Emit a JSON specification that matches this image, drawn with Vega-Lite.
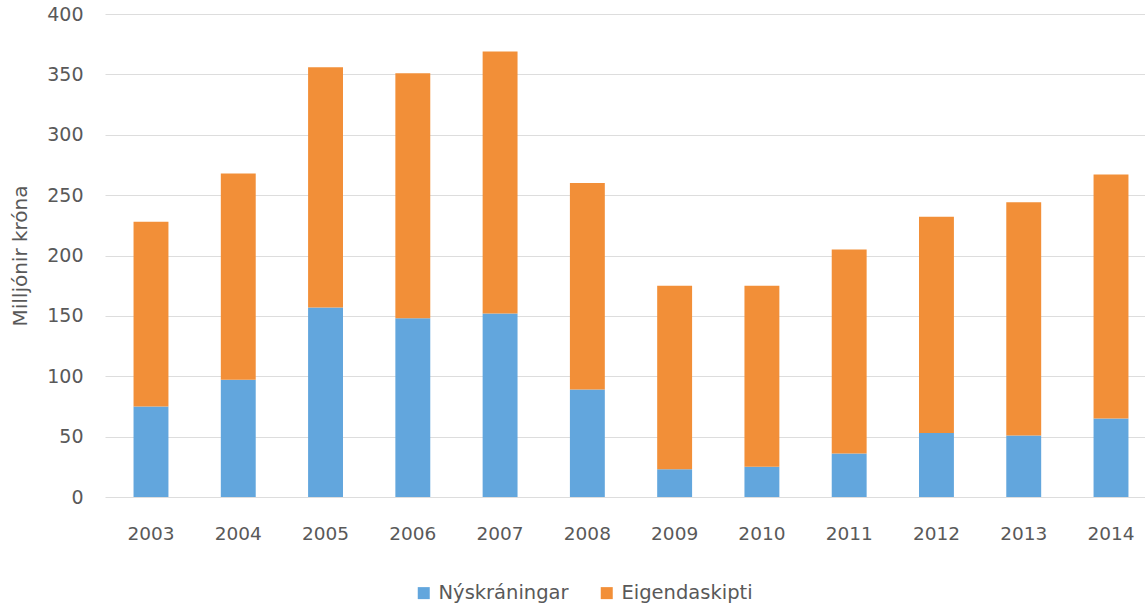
{
  "$schema": "https://vega.github.io/schema/vega-lite/v6.json",
  "width": 1040,
  "height": 483,
  "autosize": {"type": "none"},
  "padding": {"left": 105, "top": 14, "right": 0, "bottom": 112},
  "background": "white",
  "config": {
    "view": {"stroke": null},
    "font": "DejaVu Sans",
    "axis": {"labelFont": "DejaVu Sans", "titleFont": "DejaVu Sans", "labelColor": "#595959", "titleColor": "#595959"},
    "legend": {"labelFont": "DejaVu Sans"}
  },
  "data": {
    "values": [
      {"ar": "2003", "flokkur": "Nýskráningar", "o": 1, "v": 75},
      {"ar": "2003", "flokkur": "Eigendaskipti", "o": 2, "v": 153},
      {"ar": "2004", "flokkur": "Nýskráningar", "o": 1, "v": 97},
      {"ar": "2004", "flokkur": "Eigendaskipti", "o": 2, "v": 171},
      {"ar": "2005", "flokkur": "Nýskráningar", "o": 1, "v": 157},
      {"ar": "2005", "flokkur": "Eigendaskipti", "o": 2, "v": 199},
      {"ar": "2006", "flokkur": "Nýskráningar", "o": 1, "v": 148},
      {"ar": "2006", "flokkur": "Eigendaskipti", "o": 2, "v": 203},
      {"ar": "2007", "flokkur": "Nýskráningar", "o": 1, "v": 152},
      {"ar": "2007", "flokkur": "Eigendaskipti", "o": 2, "v": 217},
      {"ar": "2008", "flokkur": "Nýskráningar", "o": 1, "v": 89},
      {"ar": "2008", "flokkur": "Eigendaskipti", "o": 2, "v": 171},
      {"ar": "2009", "flokkur": "Nýskráningar", "o": 1, "v": 23},
      {"ar": "2009", "flokkur": "Eigendaskipti", "o": 2, "v": 152},
      {"ar": "2010", "flokkur": "Nýskráningar", "o": 1, "v": 25},
      {"ar": "2010", "flokkur": "Eigendaskipti", "o": 2, "v": 150},
      {"ar": "2011", "flokkur": "Nýskráningar", "o": 1, "v": 36},
      {"ar": "2011", "flokkur": "Eigendaskipti", "o": 2, "v": 169},
      {"ar": "2012", "flokkur": "Nýskráningar", "o": 1, "v": 53},
      {"ar": "2012", "flokkur": "Eigendaskipti", "o": 2, "v": 179},
      {"ar": "2013", "flokkur": "Nýskráningar", "o": 1, "v": 51},
      {"ar": "2013", "flokkur": "Eigendaskipti", "o": 2, "v": 193},
      {"ar": "2014", "flokkur": "Nýskráningar", "o": 1, "v": 65},
      {"ar": "2014", "flokkur": "Eigendaskipti", "o": 2, "v": 202}
    ]
  },
  "mark": {"type": "bar"},
  "encoding": {
    "x": {
      "field": "ar",
      "type": "ordinal",
      "title": null,
      "scale": {"paddingInner": 0.6, "paddingOuter": 0.327, "range": [0, 1052]},
      "axis": {
        "labelAngle": 0,
        "labelFontSize": 18.5,
        "labelPadding": 27,
        "ticks": false,
        "domain": false
      }
    },
    "y": {
      "field": "v",
      "type": "quantitative",
      "stack": "zero",
      "title": "Milljónir króna",
      "scale": {"domain": [0, 400], "nice": false},
      "axis": {
        "values": [0, 50, 100, 150, 200, 250, 300, 350, 400],
        "labelFontSize": 19,
        "labelPadding": 22,
        "ticks": false,
        "domain": false,
        "gridColor": "#DDDDDD",
        "gridWidth": 1.2,
        "titleFontSize": 20,
        "titleFontWeight": "normal",
        "titlePadding": 16
      }
    },
    "color": {
      "field": "flokkur",
      "type": "nominal",
      "scale": {"domain": ["Nýskráningar", "Eigendaskipti"], "range": ["#62A6DD", "#F28F38"]},
      "legend": {
        "title": null,
        "orient": "none",
        "direction": "horizontal",
        "legendX": 309,
        "legendY": 569,
        "symbolType": "square",
        "symbolSize": 144,
        "symbolStrokeWidth": 0,
        "labelFontSize": 19.5,
        "labelColor": "#595959",
        "columnPadding": 28,
        "labelOffset": 5
      }
    },
    "order": {"field": "o", "type": "quantitative"}
  }
}
